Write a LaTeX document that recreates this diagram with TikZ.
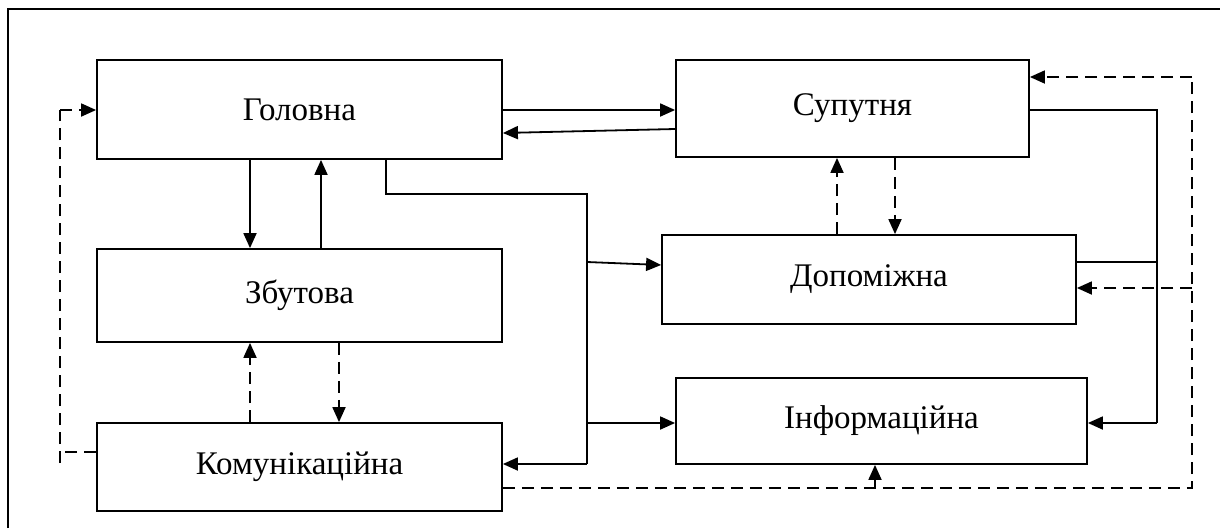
\documentclass[tikz,border=0pt]{standalone}
\usepackage{fontspec}
\setmainfont{Liberation Serif}
\usetikzlibrary{arrows.meta}
\begin{document}
\begin{tikzpicture}[x=1pt,y=-1pt,
  box/.style={draw,line width=1.8pt,inner sep=0pt,font=\fontsize{33}{38}\selectfont},
  conn/.style={line width=1.8pt,-{Triangle[length=15pt,width=13pt]}},
  plain/.style={line width=1.8pt},
  dconn/.style={conn,dash pattern=on 12pt off 7pt},
  dplain/.style={plain,dash pattern=on 12pt off 7pt}]
\useasboundingbox (0,0) rectangle (1220,528);
\fill[white] (0,0) rectangle (1220,528);
% outer frame (only top and left visible)
\draw[line width=1.8pt] (8,528) -- (8,9) -- (1220,9);
% boxes
\node[box,minimum width=405pt,minimum height=99pt] (gol) at (299.5,109.5) {Головна};
\node[box,minimum width=405pt,minimum height=93pt] (zb) at (299.5,295.5) {Збутова};
\node[box,minimum width=405pt,minimum height=88pt] (kom) at (299.5,467) {Комунікаційна};
\node[box,minimum width=353pt,minimum height=97pt] (sup) at (852.5,108.5) {Супутня};
\node[box,minimum width=414pt,minimum height=89pt] (dop) at (869,279.5) {Допоміжна};
\node[box,minimum width=411pt,minimum height=86pt] (inf) at (881.5,421) {Інформаційна};
% coordinates
\coordinate (jA) at (587,194);
\coordinate (jB) at (587,262);
\coordinate (jC) at (587,423);
\coordinate (jD) at (587,464);
\coordinate (rA) at (1157,110);
\coordinate (rB) at (1157,262);
\coordinate (rC) at (1157,423);
\coordinate (dA) at (1192,77);
\coordinate (dB) at (1192,288);
\coordinate (dC) at (1192,488);
\coordinate (lA) at (60,110);
\coordinate (lB) at (60,452);
\coordinate (lC) at (60,463);
\coordinate (iA) at (875,488);
% solid connectors
\draw[conn] (gol.east |- 0,110) -- (sup.west |- 0,110);
\draw[conn] (sup.west |- 0,129) -- (gol.east |- 0,133);
\draw[conn] (gol.south -| 250,0) -- (zb.north -| 250,0);
\draw[conn] (zb.north -| 321,0) -- (gol.south -| 321,0);
\draw[plain] (gol.south -| 386,0) |- (jA) -- (jD);
\draw[conn] (jD) -- (kom.east |- jD);
\draw[conn] (jB) -- (dop.west |- 0,265);
\draw[conn] (jC) -- (inf.west |- jC);
\draw[plain] (sup.east |- rA) -- (rA) -- (rC);
\draw[conn] (rC) -- (inf.east |- rC);
\draw[plain] (dop.east |- rB) -- (rB);
% dashed connectors
\draw[dconn] (dop.north -| 837,0) -- (sup.south -| 837,0);
\draw[dconn] (sup.south -| 895,0) -- (dop.north -| 895,0);
\draw[dconn] (kom.north -| 250,0) -- (zb.south -| 250,0);
\draw[dconn] (zb.south -| 339,0) -- (kom.north -| 339,0);
\draw[dplain] (kom.east |- dC) -- (dC) -- (dA);
\draw[dconn] (dA) -- (sup.east |- dA);
\draw[dconn] (dB) -- (dop.east |- dB);
\draw[conn] (iA) -- (inf.south -| iA);
\draw[dplain] (kom.west |- lB) -- (lB);
\draw[dplain] (lC) -- (lA);
\draw[dconn] (lA) -- (gol.west |- lA);
\end{tikzpicture}
\end{document}
